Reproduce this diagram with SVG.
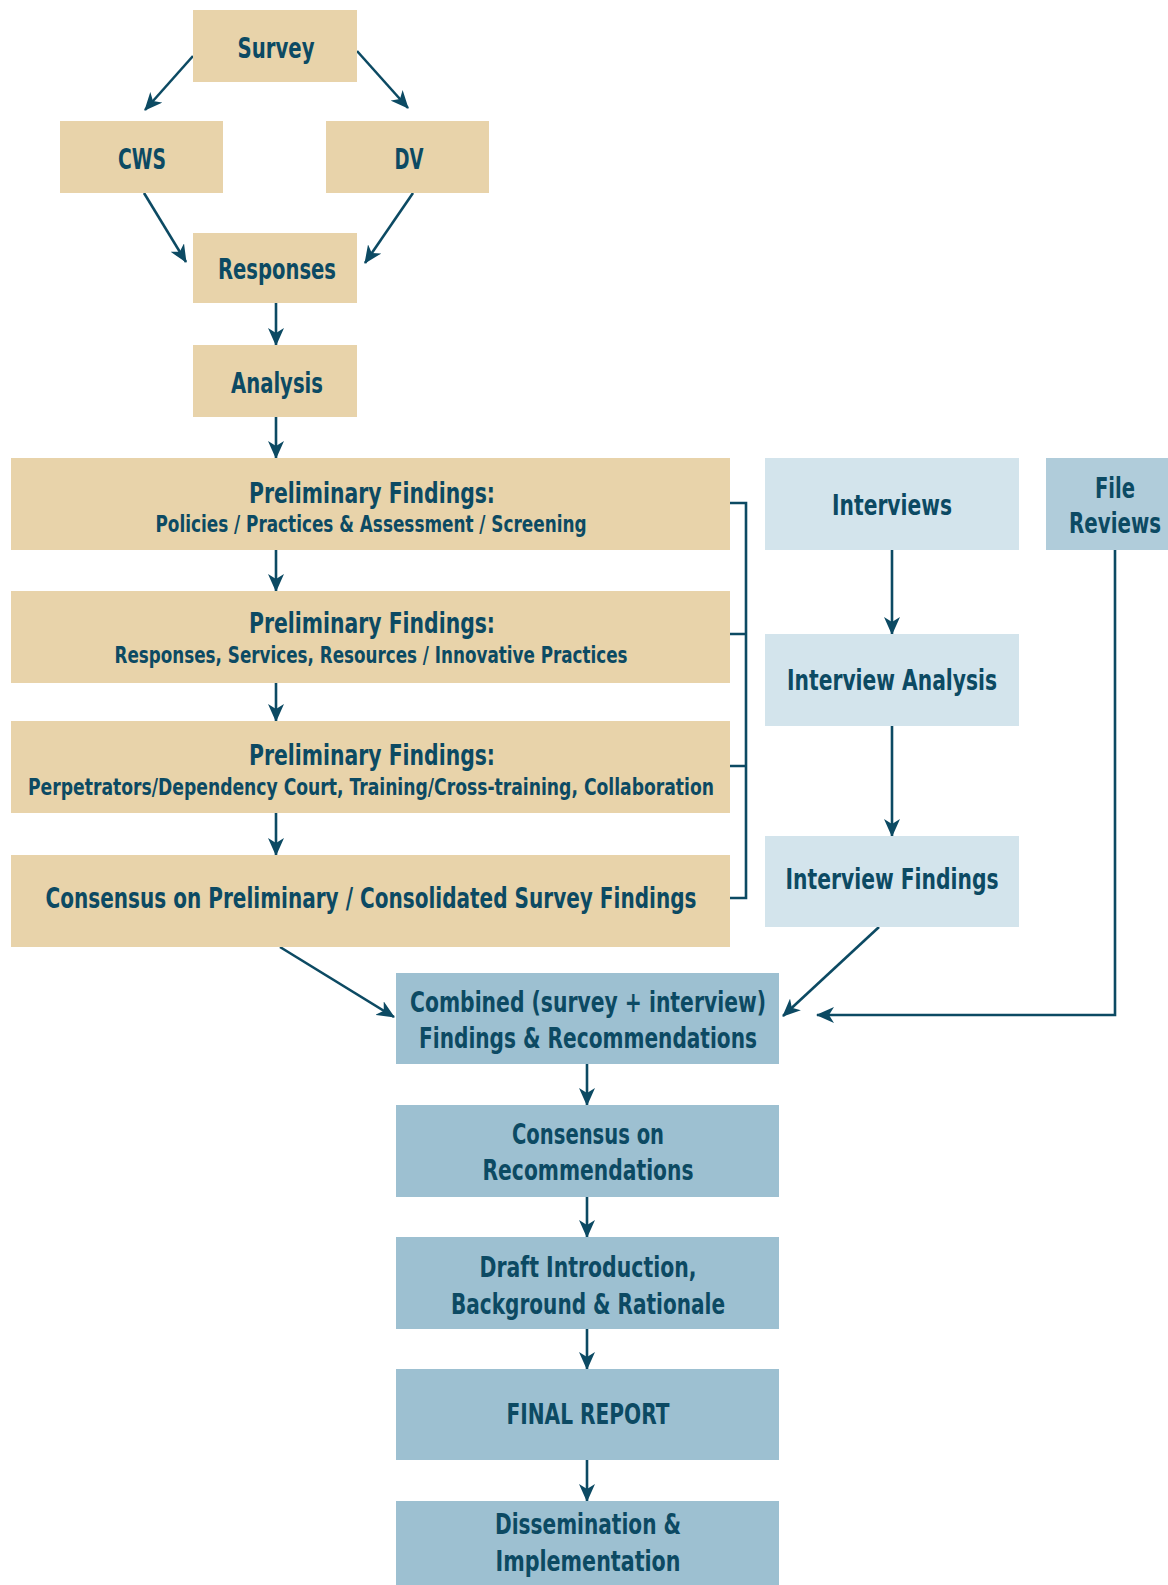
<svg xmlns="http://www.w3.org/2000/svg" width="1168" height="1585" viewBox="0 0 1168 1585">
<style>
.tan{fill:#e8d3aa}
.lb{fill:#d3e4ec}
.mb{fill:#9dc0d1}
.fr{fill:#b0ccda}
text{font-family:"Liberation Sans Narrow","DejaVu Sans Condensed","Liberation Sans",sans-serif;font-weight:bold;fill:#0c4a63;text-anchor:middle}
.t{font-size:28px}
.s{font-size:23px}
.c{fill:none;stroke:#0c4a63;stroke-width:2.6}
</style>
<defs>
<marker id="ah" markerUnits="userSpaceOnUse" markerWidth="18" markerHeight="16" viewBox="0 0 18 16" refX="17" refY="8" orient="auto">
<path d="M0,0 L18,8 L0,16 L5,8 z" fill="#0c4a63"/>
</marker>
</defs>
<rect width="1168" height="1585" fill="#ffffff"/>
<g id="connectors">
<line class="c" x1="193" y1="56" x2="145" y2="110" marker-end="url(#ah)"/>
<line class="c" x1="357" y1="51" x2="408" y2="108" marker-end="url(#ah)"/>
<line class="c" x1="144" y1="193" x2="186" y2="262" marker-end="url(#ah)"/>
<line class="c" x1="413" y1="193" x2="365" y2="263" marker-end="url(#ah)"/>
<line class="c" x1="276" y1="303" x2="276" y2="345" marker-end="url(#ah)"/>
<line class="c" x1="276" y1="417" x2="276" y2="458" marker-end="url(#ah)"/>
<line class="c" x1="276" y1="550" x2="276" y2="591" marker-end="url(#ah)"/>
<line class="c" x1="276" y1="683" x2="276" y2="721" marker-end="url(#ah)"/>
<line class="c" x1="276" y1="813" x2="276" y2="855" marker-end="url(#ah)"/>
<path class="c" d="M730,503 H746 V898 H730 M730,634 H746 M730,766 H746"/>
<line class="c" x1="892" y1="550" x2="892" y2="634" marker-end="url(#ah)"/>
<line class="c" x1="892" y1="726" x2="892" y2="836" marker-end="url(#ah)"/>
<line class="c" x1="879" y1="927" x2="783" y2="1016" marker-end="url(#ah)"/>
<line class="c" x1="280" y1="947" x2="394" y2="1017" marker-end="url(#ah)"/>
<polyline class="c" points="1115,550 1115,1015 817,1015" marker-end="url(#ah)"/>
<line class="c" x1="587" y1="1064" x2="587" y2="1105" marker-end="url(#ah)"/>
<line class="c" x1="587" y1="1197" x2="587" y2="1237" marker-end="url(#ah)"/>
<line class="c" x1="587" y1="1329" x2="587" y2="1369" marker-end="url(#ah)"/>
<line class="c" x1="587" y1="1460" x2="587" y2="1501" marker-end="url(#ah)"/>
</g>
<g id="survey"><rect class="tan" x="193" y="10" width="164" height="72"/><text class="t" transform="translate(276,58) scale(0.8,1)" textLength="96.25" lengthAdjust="spacingAndGlyphs">Survey</text></g>
<g id="cws"><rect class="tan" x="60" y="121" width="163" height="72"/><text class="t" transform="translate(142,169) scale(0.8,1)" textLength="60" lengthAdjust="spacingAndGlyphs">CWS</text></g>
<g id="dv"><rect class="tan" x="326" y="121" width="163" height="72"/><text class="t" transform="translate(409,169) scale(0.8,1)" textLength="36.25" lengthAdjust="spacingAndGlyphs">DV</text></g>
<g id="responses"><rect class="tan" x="193" y="233" width="164" height="70"/><text class="t" transform="translate(277,279) scale(0.8,1)" textLength="147.5" lengthAdjust="spacingAndGlyphs">Responses</text></g>
<g id="analysis"><rect class="tan" x="193" y="345" width="164" height="72"/><text class="t" transform="translate(277,393) scale(0.8,1)" textLength="115" lengthAdjust="spacingAndGlyphs">Analysis</text></g>
<g id="pf1"><rect class="tan" x="11" y="458" width="719" height="92"/><text class="t" transform="translate(372,503) scale(0.8,1)" textLength="307.5" lengthAdjust="spacingAndGlyphs">Preliminary Findings:</text><text class="s" transform="translate(371,532) scale(0.8,1)" textLength="538.75" lengthAdjust="spacingAndGlyphs">Policies / Practices &amp; Assessment / Screening</text></g>
<g id="pf2"><rect class="tan" x="11" y="591" width="719" height="92"/><text class="t" transform="translate(372,633) scale(0.8,1)" textLength="307.5" lengthAdjust="spacingAndGlyphs">Preliminary Findings:</text><text class="s" transform="translate(371,663) scale(0.8,1)" textLength="641.25" lengthAdjust="spacingAndGlyphs">Responses, Services, Resources / Innovative Practices</text></g>
<g id="pf3"><rect class="tan" x="11" y="721" width="719" height="92"/><text class="t" transform="translate(372,765) scale(0.8,1)" textLength="307.5" lengthAdjust="spacingAndGlyphs">Preliminary Findings:</text><text class="s" transform="translate(371,795) scale(0.8,1)" textLength="857.5" lengthAdjust="spacingAndGlyphs">Perpetrators/Dependency Court, Training/Cross-training, Collaboration</text></g>
<g id="consensus-prelim"><rect class="tan" x="11" y="855" width="719" height="92"/><text class="t" transform="translate(371,908) scale(0.8,1)" textLength="813.75" lengthAdjust="spacingAndGlyphs">Consensus on Preliminary / Consolidated Survey Findings</text></g>
<g id="interviews"><rect class="lb" x="765" y="458" width="254" height="92"/><text class="t" transform="translate(892,515) scale(0.8,1)" textLength="150" lengthAdjust="spacingAndGlyphs">Interviews</text></g>
<g id="interview-analysis"><rect class="lb" x="765" y="634" width="254" height="92"/><text class="t" transform="translate(892,690) scale(0.8,1)" textLength="262.5" lengthAdjust="spacingAndGlyphs">Interview Analysis</text></g>
<g id="interview-findings"><rect class="lb" x="765" y="836" width="254" height="91"/><text class="t" transform="translate(892,889) scale(0.8,1)" textLength="266.25" lengthAdjust="spacingAndGlyphs">Interview Findings</text></g>
<g id="file-reviews"><rect class="fr" x="1046" y="458" width="122" height="92"/><text class="t" transform="translate(1115,498) scale(0.8,1)" textLength="50" lengthAdjust="spacingAndGlyphs">File</text><text class="t" transform="translate(1115,533) scale(0.8,1)" textLength="115" lengthAdjust="spacingAndGlyphs">Reviews</text></g>
<g id="combined"><rect class="mb" x="396" y="973" width="383" height="91"/><text class="t" transform="translate(588,1012) scale(0.8,1)" textLength="445" lengthAdjust="spacingAndGlyphs">Combined (survey + interview)</text><text class="t" transform="translate(588,1048) scale(0.8,1)" textLength="422.5" lengthAdjust="spacingAndGlyphs">Findings &amp; Recommendations</text></g>
<g id="consensus-rec"><rect class="mb" x="396" y="1105" width="383" height="92"/><text class="t" transform="translate(588,1144) scale(0.8,1)" textLength="190" lengthAdjust="spacingAndGlyphs">Consensus on</text><text class="t" transform="translate(588,1180) scale(0.8,1)" textLength="263.75" lengthAdjust="spacingAndGlyphs">Recommendations</text></g>
<g id="draft"><rect class="mb" x="396" y="1237" width="383" height="92"/><text class="t" transform="translate(588,1277) scale(0.8,1)" textLength="271.25" lengthAdjust="spacingAndGlyphs">Draft Introduction,</text><text class="t" transform="translate(588,1314) scale(0.8,1)" textLength="342.5" lengthAdjust="spacingAndGlyphs">Background &amp; Rationale</text></g>
<g id="final-report"><rect class="mb" x="396" y="1369" width="383" height="91"/><text class="t" transform="translate(588,1424) scale(0.8,1)" textLength="203.75" lengthAdjust="spacingAndGlyphs">FINAL REPORT</text></g>
<g id="dissemination"><rect class="mb" x="396" y="1501" width="383" height="84"/><text class="t" transform="translate(588,1534) scale(0.8,1)" textLength="232.5" lengthAdjust="spacingAndGlyphs">Dissemination &amp;</text><text class="t" transform="translate(588,1571) scale(0.8,1)" textLength="231.25" lengthAdjust="spacingAndGlyphs">Implementation</text></g>
</svg>
